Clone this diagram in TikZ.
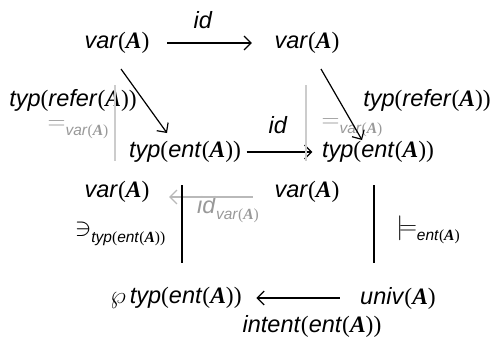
\documentclass[tikz,border=0pt]{standalone}
\usepackage{fontspec}
\setmainfont{Liberation Sans}
\newfontfamily\tnr{Liberation Serif}
\usetikzlibrary{arrows.meta}
\newcommand{\ob}{{\tnr(}}
\newcommand{\cb}{{\tnr)}}
\newcommand{\bA}{{\tnr\bfseries\itshape A}}
\newcommand{\fnap}[2]{\textit{#1}\ob#2\cb}
\newcommand{\mainsz}{\fontsize{23.5}{26}\selectfont}
\newcommand{\lowsub}[1]{\raisebox{-0.5ex}{\fontsize{15.5}{18}\selectfont #1}}
\tikzset{
	obj/.style={font=\mainsz, inner sep=0.5pt},
	lbl/.style={font=\mainsz, inner sep=0.5pt},
	faint/.style={text=gray!80},
	arr/.style={-{Straight Barb[length=7pt,width=14pt]}, line width=1.2pt},
	farr/.style={arr, draw=gray!55},
	ghost/.style={draw=gray!40, line width=1.5pt},
	bar/.style={line width=1.8pt}
}
\begin{document}
\begin{tikzpicture}[x=1pt,y=-1pt]
	\useasboundingbox (0,0) rectangle (492,341);
	% objects
	\node[obj] (varTL) at (117,43) {\fnap{var}{\bA}};
	\node[obj] (varTR) at (307,43) {\fnap{var}{\bA}};
	\node[obj] (typL) at (185,152) {\fnap{typ}{\fnap{ent}{\bA}}};
	\node[obj] (typR) at (378,152) {\fnap{typ}{\fnap{ent}{\bA}}};
	\node[obj] (varML) at (117,192) {\fnap{var}{\bA}};
	\node[obj] (varMR) at (307,192) {\fnap{var}{\bA}};
	\node[obj] (pw) at (176,298) {$\wp$\,\fnap{typ}{\fnap{ent}{\bA}}};
	\node[obj] (univ) at (398,298) {\fnap{univ}{\bA}};
	% labels
	\node[lbl] (idtop) at (203,20) {\textit{id}};
	\node[lbl] (idmid) at (278,125) {\textit{id}};
	\node[lbl] (refL) at (73,100) {\fnap{typ}{\fnap{refer}{\bA}}};
	\node[lbl] (refR) at (427,100) {\fnap{typ}{\fnap{refer}{\bA}}};
	\node[lbl, faint] (eqL) at (78,130) {$=$\lowsub{\fnap{var}{\bA}}};
	\node[lbl, faint] (eqR) at (352,128) {$=$\lowsub{\fnap{var}{\bA}}};
	\node[lbl, faint] (idvar) at (228,210) {\textit{id}\lowsub{\fnap{var}{\bA}}};
	\node[lbl] (niL) at (120,234) {$\ni$\lowsub{\fnap{typ}{\fnap{ent}{\bA}}}};
	\node[lbl] (modR) at (428,230) {$\models$\lowsub{\fnap{ent}{\bA}}};
	\node[lbl] (intent) at (312,326) {\fnap{intent}{\fnap{ent}{\bA}}};
	% free ends
	\coordinate (dL1) at (121,69);
	\coordinate (dL2) at (167,133);
	\coordinate (dR1) at (321,69);
	\coordinate (dR2) at (362,140);
	\coordinate (gL1) at (115,85);
	\coordinate (gL2) at (115,161);
	\coordinate (gR1) at (306,85);
	\coordinate (gR2) at (306,161);
	\coordinate (bL1) at (182,185);
	\coordinate (bL2) at (182,263);
	\coordinate (bR1) at (374,185);
	\coordinate (bR2) at (374,263);
	% connectors
	\draw[arr, shorten <=17pt, shorten >=22pt] (varTL) -- (varTR);
	\draw[arr, shorten <=5pt, shorten >=9pt] (typL) -- (typR);
	\draw[arr, shorten <=20pt, shorten >=14pt] (univ) -- (pw);
	\draw[farr, shorten <=21pt, shorten >=19pt] ([yshift=-5pt]varMR.west) -- ([yshift=-5pt]varML.east);
	\draw[arr] (dL1) -- (dL2);
	\draw[arr] (dR1) -- (dR2);
	\draw[ghost] (gL1) -- (gL2);
	\draw[ghost] (gR1) -- (gR2);
	\draw[bar] (bL1) -- (bL2);
	\draw[bar] (bR1) -- (bR2);
\end{tikzpicture}
\end{document}
